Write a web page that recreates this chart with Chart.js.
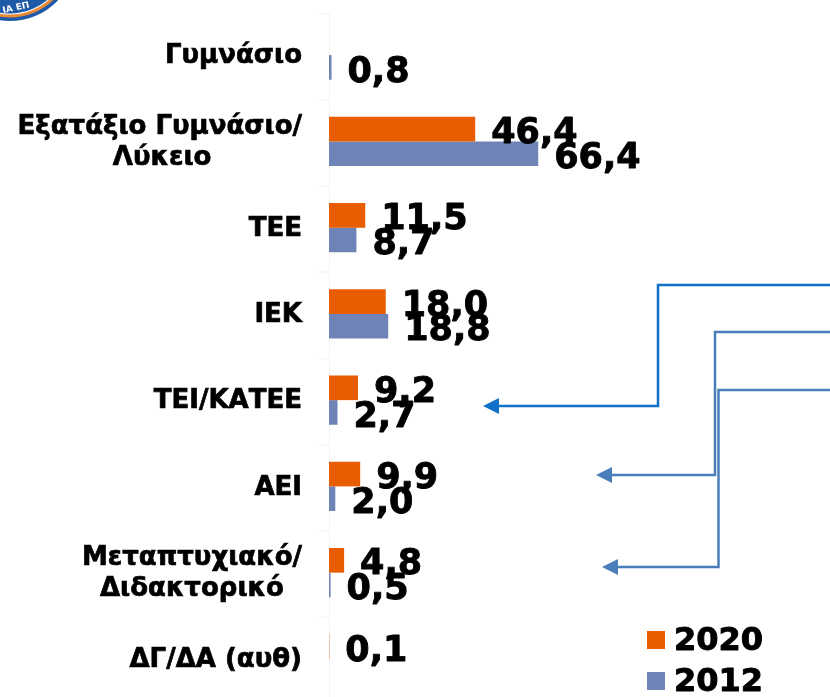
<!DOCTYPE html>
<html>
<head>
<meta charset="utf-8">
<style>html,body{margin:0;padding:0;background:#fff;overflow:hidden;width:830px;height:697px}canvas{display:block}</style>
<script src="https://cdn.jsdelivr.net/npm/chart.js@4/dist/chart.umd.min.js"></script>
</head>
<body>
<canvas id="c" width="830" height="702"></canvas>
<script>
const categories = [
  ["Γυμνάσιο"],
  ["Εξατάξιο Γυμνάσιο/", "Λύκειο"],
  ["ΤΕΕ"],
  ["ΙΕΚ"],
  ["ΤΕΙ/ΚΑΤΕΕ"],
  ["ΑΕΙ"],
  ["Μεταπτυχιακό/", "Διδακτορικό"],
  ["ΔΓ/ΔΑ (αυθ)"]
];
const series2020 = [null, 46.4, 11.5, 18.0, 9.2, 9.9, 4.8, 0.1];
const series2012 = [0.8, 66.4, 8.7, 18.8, 2.7, 2.0, 0.5, null];
const seriesNames = ["2020", "2012"];
const seriesColors = ["#E85D00", "#6F84B6"];

const FONT = '"DejaVu Sans", sans-serif';
const tickFont = 'bold 26px ' + FONT;
const measure = document.createElement('canvas').getContext('2d');
measure.font = tickFont;
const NBSP = '\u00A0';
// Multi-line labels are centred on their widest line, the block stays right aligned.
function centredLines(lines) {
  const widest = Math.max(...lines.map(l => measure.measureText(l).width));
  const sp = measure.measureText(NBSP).width;
  return lines.map(l => l + NBSP.repeat(Math.round((widest - measure.measureText(l).width) / 2 / sp)));
}

const overlay = {
  id: 'overlay',
  // the axis layer sits a little lower than the scale centre in the reference
  beforeDraw(chart) { chart.ctx.save(); chart.ctx.translate(0, 1.5); },
  beforeDatasetsDraw(chart) { chart.ctx.restore(); },
  afterDatasetsDraw(chart) {
    const ctx = chart.ctx;
    ctx.save();
    // value labels
    ctx.fillStyle = '#000';
    ctx.strokeStyle = '#000';
    ctx.lineWidth = 0.9;
    ctx.lineJoin = 'round';
    ctx.font = 'bold 35px ' + FONT;
    ctx.textBaseline = 'middle';
    ctx.textAlign = 'left';
    chart.data.datasets.forEach((ds, di) => {
      chart.getDatasetMeta(di).data.forEach((bar, i) => {
        const v = ds.data[i];
        if (v === null) return;
        const t = v.toFixed(1).replace('.', ',');
        ctx.fillText(t, bar.x + 16, bar.y + 5);
        ctx.strokeText(t, bar.x + 16, bar.y + 5);
      });
    });
    // legend
    ctx.font = 'bold 32px ' + FONT;
    [[647, 631], [647, 672]].forEach((p, i) => {
      ctx.fillStyle = chart.data.datasets[i].backgroundColor;
      ctx.fillRect(p[0], p[1], 18, 18);
      ctx.fillStyle = '#000';
      ctx.strokeStyle = '#000';
      ctx.fillText(chart.data.datasets[i].label, p[0] + 27, p[1] + 11);
      ctx.strokeText(chart.data.datasets[i].label, p[0] + 27, p[1] + 11);
    });
    // connector arrows
    const arrow = (col, pts, tip, base) => {
      ctx.strokeStyle = col; ctx.fillStyle = col; ctx.lineWidth = 2.5;
      ctx.lineJoin = 'miter';
      ctx.beginPath();
      pts.forEach((q, k) => k ? ctx.lineTo(q[0], q[1]) : ctx.moveTo(q[0], q[1]));
      ctx.stroke();
      const y = pts[pts.length - 1][1];
      ctx.beginPath();
      ctx.moveTo(tip, y); ctx.lineTo(base, y - 8); ctx.lineTo(base, y + 8);
      ctx.closePath(); ctx.fill();
    };
    arrow('#4A7EBB', [[830, 332], [715, 332], [715, 475], [610, 475]], 596, 612);
    arrow('#4A7EBB', [[830, 390], [718.5, 390], [718.5, 567], [616, 567]], 602, 618);
    arrow('#1170C8', [[830, 285], [658, 285], [658, 406], [497, 406]], 483, 499);
    // logo corner
    const ring = (r, col) => {
      ctx.fillStyle = col;
      ctx.beginPath(); ctx.arc(10, -45, r, 0, Math.PI * 2); ctx.fill();
    };
    ring(66, '#1F5AA8'); ring(62.5, '#E88A35'); ring(59.5, '#FFFFFF'); ring(58.5, '#1F5AA8');
    ctx.fillStyle = '#fff';
    ctx.font = 'bold 9px ' + FONT;
    ctx.translate(16, 8);
    ctx.rotate(-0.22);
    ctx.textAlign = 'center';
    ctx.fillText('ΙΑ ΕΠ', 0, 0);
    ctx.restore();
  }
};

new Chart(document.getElementById('c'), {
  type: 'bar',
  plugins: [overlay],
  data: {
    labels: categories,
    datasets: [
      { label: seriesNames[0], data: series2020, backgroundColor: seriesColors[0] },
      { label: seriesNames[1], data: series2012, backgroundColor: seriesColors[1] }
    ]
  },
  options: {
    indexAxis: 'y',
    responsive: false,
    animation: false,
    layout: { padding: { top: 12, left: 0, right: 0, bottom: 0 } },
    plugins: { legend: { display: false }, tooltip: { enabled: false } },
    datasets: { bar: { categoryPercentage: 0.571, barPercentage: 1 } },
    scales: {
      x: { display: false, min: 0, max: 159 },
      y: {
        afterFit(s) { s.width = 329; s.paddingTop = 0; s.paddingBottom = 0; },
        grid: { drawOnChartArea: false, color: '#F3F3F3', tickLength: 10, lineWidth: 1 },
        border: { color: '#F3F3F3', width: 1 },
        ticks: {
          color: '#000', padding: 17, autoSkip: false,
          textStrokeColor: '#000', textStrokeWidth: 0.7,
          font: { family: FONT, weight: 'bold', size: 26 },
          callback(v) { return centredLines(categories[v]); }
        }
      }
    }
  }
});
</script>
</body>
</html>
